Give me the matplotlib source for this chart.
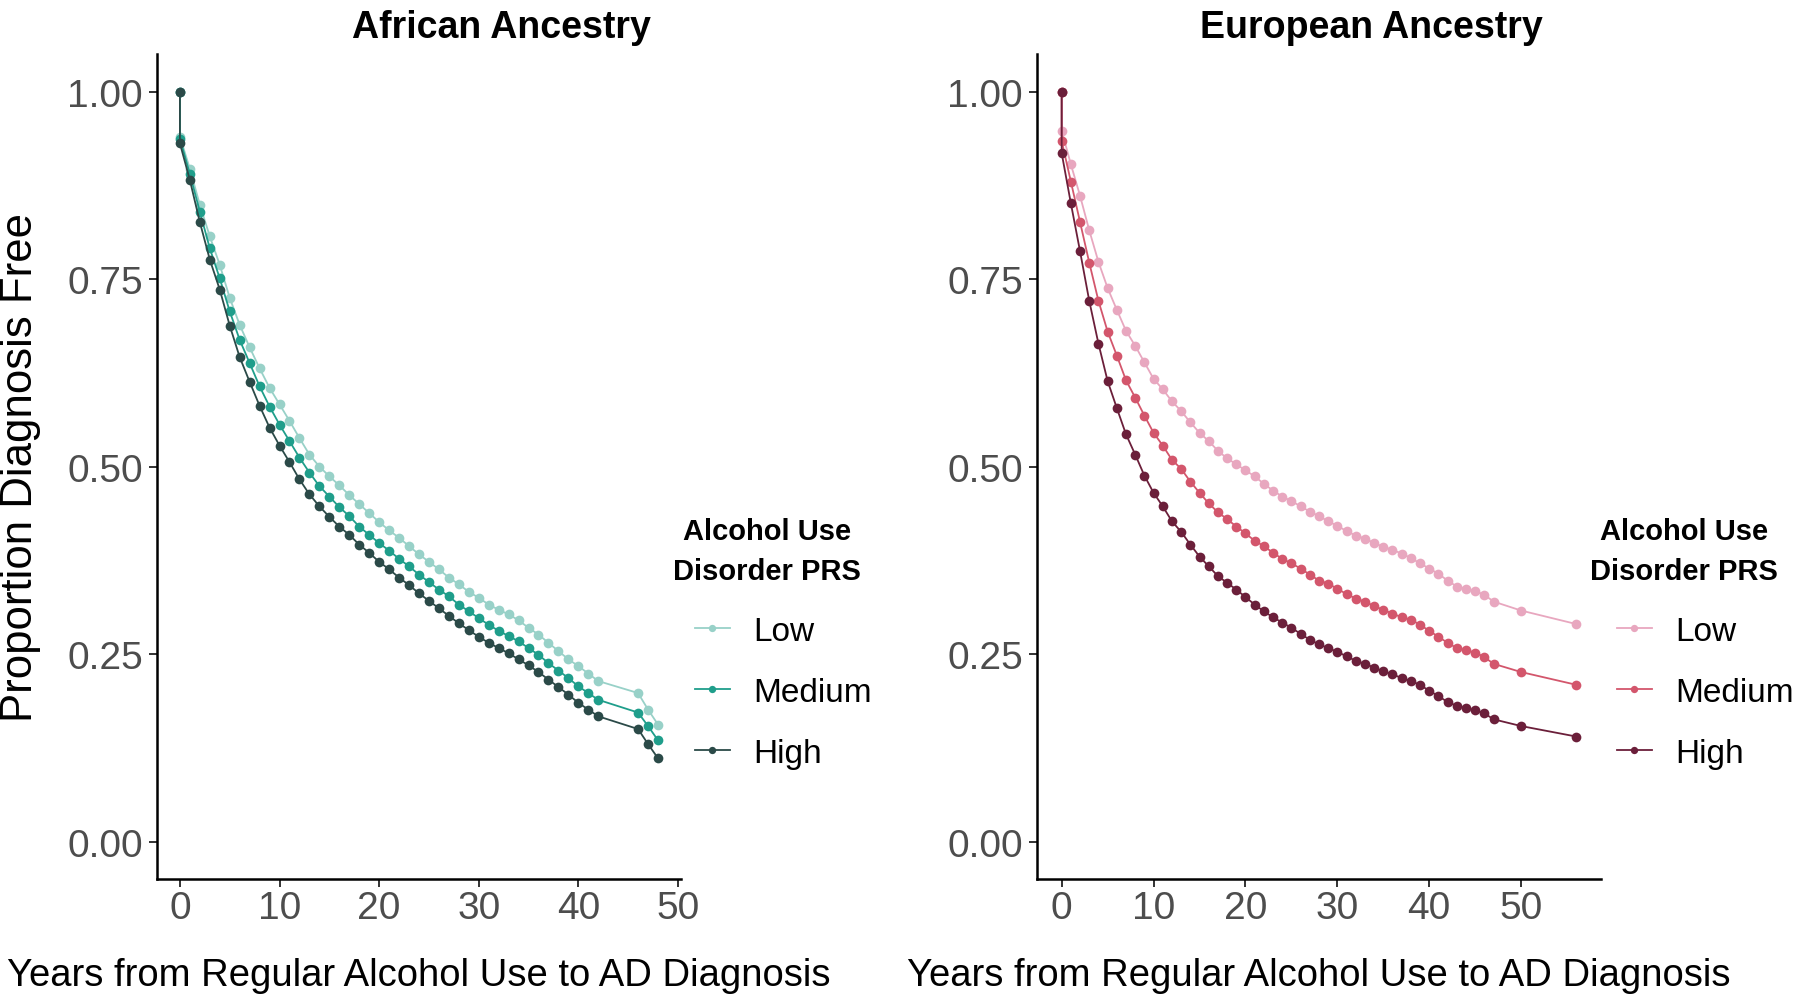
import matplotlib
matplotlib.use("Agg")
import matplotlib.pyplot as plt

plt.rcParams['font.family'] = ['Liberation Sans', 'DejaVu Sans']

# Years from regular alcohol use (first 0 = start of curve at 1.00)
aa_years = [0, 0, 1, 2, 3, 4, 5, 6, 7, 8, 9, 10, 11, 12, 13, 14, 15, 16, 17, 18, 19, 20,
            21, 22, 23, 24, 25, 26, 27, 28, 29, 30, 31, 32, 33, 34, 35, 36, 37, 38, 39, 40,
            41, 42, 46, 47, 48]
aa_low = [1.0, 0.940, 0.897, 0.849, 0.807, 0.769, 0.725, 0.689, 0.659, 0.631, 0.605, 0.583,
          0.561, 0.538, 0.516, 0.500, 0.487, 0.475, 0.462, 0.450, 0.438, 0.426, 0.415, 0.405,
          0.394, 0.383, 0.373, 0.363, 0.352, 0.343, 0.333, 0.325, 0.316, 0.309, 0.303, 0.295,
          0.285, 0.276, 0.265, 0.254, 0.243, 0.234, 0.224, 0.214, 0.198, 0.176, 0.156]
aa_medium = [1.0, 0.937, 0.890, 0.840, 0.791, 0.751, 0.707, 0.669, 0.638, 0.607, 0.580, 0.556,
             0.534, 0.512, 0.492, 0.474, 0.460, 0.446, 0.434, 0.420, 0.409, 0.398, 0.388, 0.377,
             0.367, 0.356, 0.346, 0.336, 0.327, 0.316, 0.307, 0.298, 0.289, 0.281, 0.274, 0.267,
             0.258, 0.249, 0.238, 0.228, 0.218, 0.207, 0.198, 0.189, 0.172, 0.154, 0.135]
aa_high = [1.0, 0.931, 0.882, 0.826, 0.776, 0.736, 0.688, 0.646, 0.613, 0.581, 0.552, 0.528,
           0.506, 0.483, 0.463, 0.447, 0.433, 0.420, 0.409, 0.396, 0.385, 0.373, 0.363, 0.352,
           0.342, 0.331, 0.321, 0.311, 0.301, 0.291, 0.282, 0.273, 0.265, 0.258, 0.251, 0.243,
           0.235, 0.226, 0.216, 0.206, 0.196, 0.185, 0.176, 0.167, 0.150, 0.130, 0.111]

ea_years = [0, 0, 1, 2, 3, 4, 5, 6, 7, 8, 9, 10, 11, 12, 13, 14, 15, 16, 17, 18, 19, 20,
            21, 22, 23, 24, 25, 26, 27, 28, 29, 30, 31, 32, 33, 34, 35, 36, 37, 38, 39, 40,
            41, 42, 43, 44, 45, 46, 47, 50, 56]
ea_low = [1.0, 0.948, 0.903, 0.861, 0.815, 0.773, 0.738, 0.709, 0.681, 0.661, 0.639, 0.617,
          0.603, 0.587, 0.574, 0.559, 0.545, 0.534, 0.521, 0.511, 0.503, 0.495, 0.487, 0.477,
          0.468, 0.460, 0.454, 0.447, 0.440, 0.434, 0.427, 0.421, 0.414, 0.408, 0.404, 0.398,
          0.393, 0.389, 0.384, 0.378, 0.371, 0.364, 0.357, 0.348, 0.340, 0.337, 0.334, 0.329,
          0.320, 0.308, 0.290]
ea_medium = [1.0, 0.934, 0.880, 0.826, 0.772, 0.721, 0.680, 0.648, 0.615, 0.592, 0.568, 0.545,
             0.528, 0.509, 0.497, 0.480, 0.465, 0.451, 0.439, 0.430, 0.420, 0.411, 0.401, 0.394,
             0.385, 0.377, 0.371, 0.364, 0.356, 0.348, 0.344, 0.337, 0.330, 0.324, 0.320, 0.314,
             0.309, 0.304, 0.299, 0.296, 0.289, 0.281, 0.273, 0.265, 0.258, 0.255, 0.252, 0.246,
             0.237, 0.226, 0.209]
ea_high = [1.0, 0.918, 0.851, 0.787, 0.721, 0.664, 0.614, 0.578, 0.543, 0.516, 0.488, 0.465,
           0.447, 0.427, 0.413, 0.396, 0.380, 0.367, 0.354, 0.345, 0.336, 0.326, 0.316, 0.307,
           0.299, 0.292, 0.285, 0.277, 0.269, 0.263, 0.258, 0.253, 0.247, 0.241, 0.237, 0.232,
           0.227, 0.223, 0.218, 0.214, 0.209, 0.201, 0.194, 0.186, 0.181, 0.178, 0.175, 0.171,
           0.163, 0.154, 0.140]

prs_levels = ['Low', 'Medium', 'High']
aa_colors = ['#98d1c8', '#1f9e8b', '#2b4a48']
ea_colors = ['#e8a7bf', '#d3566c', '#6b1f3a']

fig = plt.figure(figsize=(18, 10.03), dpi=100)
ax1 = fig.add_axes([0.0872, 0.1226, 0.2911, 0.8225])
ax2 = fig.add_axes([0.5761, 0.1226, 0.3133, 0.8225])


def draw_panel(ax, years, series, colors, title, title_x, xmax, legend_x, legtitle_x):
    for vals, col, lab in zip(series, colors, prs_levels):
        ax.plot(years, vals, color=col, lw=1.3, marker='o', markersize=7,
                markeredgewidth=0, label=lab)
    ax.set_xlim(-0.048 * xmax, 1.048 * xmax)
    ax.set_ylim(-0.05, 1.05)
    ax.set_yticks([0, 0.25, 0.5, 0.75, 1.0])
    ax.set_yticklabels(['0.00', '0.25', '0.50', '0.75', '1.00'])
    ax.set_xticks([0, 10, 20, 30, 40, 50])
    for s in ['top', 'right']:
        ax.spines[s].set_visible(False)
    for s in ['left', 'bottom']:
        ax.spines[s].set_linewidth(1.8)
    ax.tick_params(axis='both', length=6, width=1.4, color='#333333',
                   labelsize=28, labelcolor='#4d4d4d')
    ax.tick_params(axis='y', pad=4)
    ax.tick_params(axis='x', pad=2)
    fig.text(title_x / 1800, 1 - 28.5 / 1003, title, ha='center', va='center',
             fontsize=27, fontweight='bold')
    # legend title drawn separately so the entries can sit right of its left edge
    fig.text(legtitle_x / 1800, 1 - 552 / 1003, 'Alcohol Use\nDisorder PRS',
             ha='center', va='center', multialignment='center',
             fontsize=21, fontweight='bold', linespacing=1.5)
    ax.legend(frameon=False, loc='upper left', borderpad=0,
              bbox_to_anchor=(legend_x / 1800, 1 - 600 / 1003),
              bbox_transform=fig.transFigure, fontsize=24,
              handlelength=1.05, handletextpad=0.72, labelspacing=0.9,
              markerscale=0.75)


draw_panel(ax1, aa_years, [aa_low, aa_medium, aa_high], aa_colors,
           'African Ancestry', 501, 48, 678, 767)
draw_panel(ax2, ea_years, [ea_low, ea_medium, ea_high], ea_colors,
           'European Ancestry', 1371, 56, 1600, 1684)

fig.text(419 / 1800, 1 - 976 / 1003, 'Years from Regular Alcohol Use to AD Diagnosis',
         ha='center', va='center', fontsize=27.5)
fig.text(1319 / 1800, 1 - 976 / 1003, 'Years from Regular Alcohol Use to AD Diagnosis',
         ha='center', va='center', fontsize=27.5)
fig.text(21 / 1800, 1 - 468 / 1003, 'Proportion Diagnosis Free', rotation=90,
         ha='center', va='center', fontsize=31.5)

fig.savefig('out.png', dpi=100)
